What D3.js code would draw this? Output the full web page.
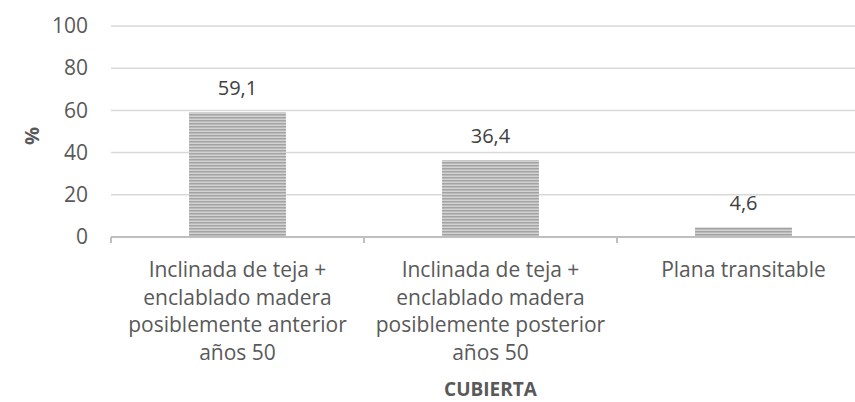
<!DOCTYPE html>
<html>
<head>
<meta charset="utf-8">
<script src="https://cdn.jsdelivr.net/npm/d3@7"></script>
<style>
  html, body { margin: 0; padding: 0; background: #fff; }
  svg { display: block; font-family: "Open Sans", "Noto Sans", sans-serif; }
</style>
</head>
<body>
<svg id="chart" width="855" height="402"></svg>
<script>
const categories = [
  ["Inclinada de teja +", "enclablado madera", "posiblemente anterior", "años 50"],
  ["Inclinada de teja +", "enclablado madera", "posiblemente posterior", "años 50"],
  ["Plana transitable"]
];
const values = [59.1, 36.4, 4.6];
const valueLabels = ["59,1", "36,4", "4,6"];
const yTicks = [0, 20, 40, 60, 80, 100];
const yTitle = "%";
const xTitle = "CUBIERTA";

const svg = d3.select("#chart");
const plotLeft = 111, plotRight = 870, plotTop = 26, plotBottom = 237;
const fontSize = 21;

// horizontal stripe fill for the bars
const defs = svg.append("defs");
const pat = defs.append("pattern")
  .attr("id", "stripes").attr("patternUnits", "userSpaceOnUse")
  .attr("width", 8).attr("height", 3);
pat.append("rect").attr("width", 8).attr("height", 3).attr("fill", "#d2d2d2");
pat.append("rect").attr("y", 0).attr("width", 8).attr("height", 1.5).attr("fill", "#a3a3a3");

const x = d3.scaleBand().domain(d3.range(categories.length)).range([plotLeft, plotRight]).padding(0);
const y = d3.scaleLinear().domain([0, 100]).range([plotBottom, plotTop]);

// gridlines
svg.append("g").selectAll("line").data(yTicks.filter(d => d > 0)).join("line")
  .attr("x1", plotLeft).attr("x2", plotRight)
  .attr("y1", d => y(d)).attr("y2", d => y(d))
  .attr("stroke", "#d9d9d9").attr("stroke-width", 1.5);

// y axis labels
const yAxis = svg.append("g").attr("transform", `translate(${plotLeft},0)`)
  .call(d3.axisLeft(y).tickValues(yTicks).tickSize(0).tickPadding(23));
yAxis.select(".domain").remove();
yAxis.attr("font-family", null).attr("font-size", null);
yAxis.selectAll("text").attr("fill", "#595959").style("font-size", fontSize + "px");

// bars
const barW = x.bandwidth() * 0.383;
svg.append("g").selectAll("rect").data(values).join("rect")
  .attr("x", (d, i) => x(i) + x.bandwidth() / 2 - barW / 2)
  .attr("width", barW)
  .attr("y", d => y(d))
  .attr("height", d => y(0) - y(d))
  .attr("fill", "url(#stripes)");

// value labels
svg.append("g").selectAll("text").data(values).join("text")
  .attr("x", (d, i) => x(i) + x.bandwidth() / 2)
  .attr("y", d => y(d) - 17)
  .attr("text-anchor", "middle")
  .attr("fill", "#404040").style("font-size", "20px")
  .text((d, i) => valueLabels[i]);

// x axis
const xAxis = svg.append("g").attr("transform", `translate(0,${plotBottom})`)
  .call(d3.axisBottom(x).tickSize(0).tickFormat(""));
xAxis.select(".domain").attr("stroke", "#bfbfbf").attr("stroke-width", 2)
  .attr("d", `M${plotLeft},0H${plotRight}`);
svg.append("g").selectAll("line").data(d3.range(categories.length)).join("line")
  .attr("x1", i => x(i)).attr("x2", i => x(i))
  .attr("y1", plotBottom).attr("y2", plotBottom + 6)
  .attr("stroke", "#bfbfbf").attr("stroke-width", 2);

// category labels
const cat = svg.append("g").selectAll("text").data(categories).join("text")
  .attr("x", (d, i) => x(i) + x.bandwidth() / 2)
  .attr("y", 277)
  .attr("text-anchor", "middle")
  .attr("fill", "#595959").style("font-size", fontSize + "px");
cat.selectAll("tspan").data(d => d).join("tspan")
  .attr("x", function() { return this.parentNode.getAttribute("x"); })
  .attr("dy", (d, i) => i === 0 ? 0 : 27.5)
  .text(d => d);

// axis titles
svg.append("text")
  .attr("transform", `translate(39,136) rotate(-90)`)
  .attr("text-anchor", "middle").attr("fill", "#595959")
  .style("font-size", "20px").style("font-weight", "bold").text(yTitle);
svg.append("text")
  .attr("x", (plotLeft + plotRight) / 2).attr("y", 396)
  .attr("text-anchor", "middle").attr("fill", "#595959")
  .style("font-size", "19px").style("font-weight", "bold").text(xTitle);
</script>
</body>
</html>
